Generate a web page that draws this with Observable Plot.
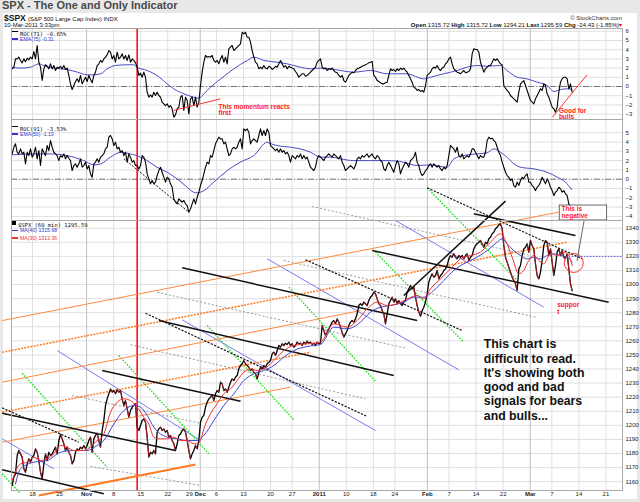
<!DOCTYPE html>
<html><head><meta charset="utf-8">
<script src="https://cdn.jsdelivr.net/npm/d3@7"></script>
<script src="https://cdn.jsdelivr.net/npm/@observablehq/plot@0.6"></script>
<style>
body{margin:0;width:640px;height:502px;background:#e8e8e8;position:relative;overflow:hidden;font-family:"Liberation Sans",Arial,sans-serif;}
#title{position:absolute;left:2px;top:0px;line-height:11px;font-size:11px;font-weight:bold;color:#4a4a4a;}
#sheet{position:absolute;left:3px;top:13px;width:634px;height:486px;background:#fff;}
.abs{position:absolute;white-space:nowrap;line-height:6px;}
.dash{display:inline-block;width:6px;height:1.5px;vertical-align:middle;margin-right:2px;}
.mono{font-family:"DejaVu Sans Mono",monospace;font-size:5.5px;color:#111;}
.sm{font-size:5.2px;}
.panel{position:absolute;left:3px;}
</style></head>
<body>
<div id="title">SPX - The One and Only Indicator</div>
<div id="sheet"></div>
<div class="abs" style="left:4px;top:14px;line-height:8px;font-size:8.5px;font-weight:bold;color:#111">$SPX <span style="font-size:6px;font-weight:normal">(S&amp;P 500 Large Cap Index) INDX</span></div>
<div class="abs" style="left:4px;top:22px;font-size:6px;color:#111">10-Mar-2011 3:33pm</div>
<div class="abs" style="right:18px;top:14.5px;font-size:6px;color:#333">© StockCharts.com</div>
<div class="abs" style="right:18px;top:22px;font-size:6px;color:#111"><b>Open</b> 1315.72 <b>High</b> 1315.72 <b>Low</b> 1294.21 <b>Last</b> 1295.59 <b>Chg</b> -24.43 (-1.85%)<span style="color:#e00">▾</span></div>

<div id="p1" class="panel" style="top:28px"></div>
<div id="p2" class="panel" style="top:119px"></div>
<div id="p3" class="panel" style="top:220px"></div>

<div class="abs" style="left:12px;top:27.5px"><span class="dash" style="background:#000"></span><span class="mono">ROC(71) -0.65%</span></div>
<div class="abs sm" style="left:12px;top:35.5px;color:#33c"><span class="dash" style="background:#33c"></span>EMA(75) -0.31</div>
<div class="abs" style="left:12px;top:122.5px"><span class="dash" style="background:#000"></span><span class="mono">ROC(91) -3.53%</span></div>
<div class="abs sm" style="left:12px;top:130.5px;color:#33c"><span class="dash" style="background:#33c"></span>EMA(50) -1.13</div>
<div class="abs" style="left:12px;top:219px"><span style="display:inline-block;width:4px;height:4px;background:#000;margin-right:2px;vertical-align:middle"></span><span class="mono">$SPX (60 min) 1295.59</span></div>
<div class="abs sm" style="left:12px;top:227px;color:#33c"><span class="dash" style="background:#33c"></span>MA(40) 1315.68</div>
<div class="abs sm" style="left:12px;top:234.5px;color:#e33"><span class="dash" style="background:#e33"></span>MA(30) 1313.36</div>

<script>
// ---------- time axis (trading-day index, 0 = 18 Oct 2010) ----------
const tickDays   = [0, 5, 10, 15, 20, 25, 29, 31, 34, 39, 44, 48, 53, 58, 63, 67, 73, 77, 82, 87, 92, 96, 101, 106];
const tickLabels = ["18","25","Nov","8","15","22","29","Dec","6","13","20","27","2011","10","18","24","Feb","7","14","22","Mar","7","14","21"];
const monthDays  = [10, 31, 53, 73, 92];
const markerDay  = [19.35];
const dayStart = -3.758, dayStep = 0.30807;

// ---------- ROC(71) ----------
const roc71 = [1.92,2.1,3.0,3.0,3.19,2.83,2.57,3.0,2.7,3.08, 2.9,3.19,3.0,3.8,3.0,4.46,2.64,2.1,0.65,1.92,
2.36,2.2,1.92,2.46,1.92,2.28,1.74,2.1,2.0,2.2, 1.92,2.28,1.85,2.0,1.2,0.29,-0.33,0.11,0.54,0.83,
0.47,1.2,0.29,0.65,1.01,0.54,1.2,0.76,0.4,1.2, 1.56,2.28,2.46,2.83,2.64,3.0,3.19,3.44,3.91,3.73,
3.0,3.37,2.64,3.73,3.0,3.19,3.55,3.0,3.37,2.83, 3.44,2.64,3.0,2.83,2.57,2.1,1.2,1.45,1.01,1.56,
1.01,-0.62,-1.16,-0.91,-1.16,-0.62,-0.98,-0.62,-0.98,-1.16, -1.7,-1.88,-2.07,-1.88,-2.25,-2.07,-2.43,-3.33,-3.08,-2.43,
-2.25,-1.16,-0.98,-2.6,-1.16,-1.52,-2.97,-1.34,-1.16,-2.07, -1.16,-2.25,-1.7,0.11,1.56,2.64,3.37,3.19,3.26,3.19,
3.37,2.83,2.64,2.83,2.46,3.0,3.37,2.64,3.19,2.46, 4.1,4.28,4.46,3.91,4.1,4.28,4.46,4.64,5.9,5.72,
5.9,5.36,5.36,4.82,3.91,3.19,2.64,2.46,1.92,2.1, 1.92,2.28,2.0,1.92,2.2,2.1,1.85,2.0,2.2,2.1,
2.46,2.83,2.46,2.1,2.28,1.92,2.2,2.1,2.0,1.92, 1.63,1.38,1.01,1.2,1.38,1.38,1.12,1.2,1.38,1.56,
1.74,1.92,2.1,2.64,2.83,3.0,
2.1,1.92,2.0,1.74,1.92,1.85,2.0,1.74,1.56,1.49, 1.2,1.01,1.2,0.65,0.47,0.83,1.2,1.38,1.56,1.49,
1.74,1.92,2.0,2.1,2.2,2.28,2.36,2.46,2.57,2.64, 2.72,1.2,1.01,0.65,0.54,0.4,0.29,0.29,0.4,0.47,
1.2,1.92,1.74,1.85,1.63,1.92,1.74,2.0,1.85,2.0, 1.74,1.56,1.2,0.83,0.47,-0.07,-0.18,-0.43,-0.33,-0.54,
-0.43,-0.62,0.11,1.2,1.38,1.56,1.92,2.1,2.0,2.28, 1.92,1.74,2.0,2.1,2.46,2.64,3.0,3.19,2.46,1.92,
1.74,1.56,1.49,1.38,1.56,1.74,1.49,1.56,1.63,1.92, 3.55,4.1,4.02,4.02,3.73,2.64,2.1,1.56,1.92,2.1,
2.28,2.28,2.64,3.0,2.83,3.0,2.72,2.46,2.36,0.11, -0.18,-0.43,-0.62,-0.98,-1.16,-1.34,-1.52,-1.7,-0.62,0.29,
0.47,0.65,0.11,-0.43,-0.98,-1.52,-1.7,-1.88,-1.34,-0.98, -0.62,-0.25,-0.43,0.29,0.11,-0.8,-1.16,-1.7,-2.25,-2.43,
-2.79,-2.25,-0.62,0.47,0.83,1.01,1.01,0.83,-0.25,0.29, -0.65];
const ema75 = [[-3.9,2.1],[-2.2,2.0],[-0.4,2.1],[1.2,2.46],[2.1,2.28],[3.9,2.0],[6.4,1.85],[8.3,1.56],[10.1,1.27],[11.3,1.27],
[12.6,1.38],[13.8,1.92],[15.3,2.28],[17.5,2.36],[18.7,2.36],[19.3,2.1],[21.2,1.74],[23.0,1.2],[24.9,0.29],[26.1,-0.25],
[28.0,-0.8],[29.8,-1.16],[30.7,-1.27],[31.7,-0.8],[32.9,-0.07],[34.8,0.83],[37.2,1.92],[39.7,2.83],[40.9,3.19],[42.8,2.83],
[45.2,2.64],[47.1,2.46],[49.5,2.1],[51.4,1.92],[53.2,2.0],[55.1,1.92],[56.9,1.74],[59.4,1.56],[62.5,1.74],[65.6,1.38],
[69.2,1.38],[72.3,0.83],[73.6,1.01],[76.0,1.38],[78.5,1.74],[80.3,2.1],[82.2,2.28],[84.0,2.2],[86.5,2.28],[87.7,1.74],
[89.6,1.01],[91.4,0.83],[93.3,0.47],[95.1,0.11],[96.4,-0.54],[97.6,-0.33],[98.8,-0.25],[99.7,-0.31]];

// ---------- ROC(91) ----------
const roc91 = [2.72,3.44,3.8,2.9,2.72,3.26,2.72,2.9,1.65,2.9, 2.54,3.26,2.37,2.72,3.44,2.19,3.08,1.47,3.26,2.9,
2.54,3.62,3.08,4.16,3.44,2.9,2.72,2.54,2.0,2.54, 2.37,2.72,2.19,2.54,2.26,2.0,0.93,1.47,1.65,1.29,
1.65,2.19,1.29,1.47,1.83,1.11,1.47,0.57,0.22,1.65, 1.83,2.19,1.83,2.37,2.54,2.72,3.26,3.44,4.52,4.7,
4.34,3.62,3.98,3.26,3.44,2.9,3.08,2.54,2.9,1.83, 2.72,2.37,1.83,2.0,1.47,1.47,1.11,1.47,2.54,2.37,
1.83,0.57,0.04,-0.5,-0.14,-0.5,-0.32,0.39,0.93,1.29, 0.75,0.22,-0.32,0.22,0.04,-0.5,-0.86,-2.11,-2.47,-2.65,
-2.11,-2.29,-2.47,-2.29,-2.65,-2.83,-3.55,-3.19,-2.65,-2.11, -2.65,-1.94,-1.4,-0.68,-0.14,0.57,1.29,1.83,1.65,2.54,
2.37,3.08,3.8,4.16,4.52,4.34,4.34,3.8,3.98,3.26, 2.54,2.72,3.26,3.44,3.26,3.44,3.98,4.34,3.26,5.41,
5.23,5.41,5.05,3.8,4.16,4.34,4.16,3.98,4.7,5.41, 4.7,5.23,4.7,5.41,5.05,3.62,3.44,3.26,3.08,3.26,
2.9,3.26,2.9,3.08,2.72,2.9,2.54,1.83,2.54,2.37, 2.19,2.54,2.37,2.72,2.19,2.54,2.19,2.37,1.83,1.29,
1.11,0.93,1.29,2.19,2.54,2.37,
2.19,2.0,2.37,2.54,2.72,2.54,2.37,2.72,2.54,2.37, 2.19,2.54,1.83,1.47,0.93,1.11,1.29,1.47,1.29,1.11,
1.47,2.19,2.37,2.19,2.54,2.37,2.54,2.72,2.37,2.54, 2.72,2.37,2.19,2.54,2.37,2.0,1.83,1.11,0.93,1.47,
1.83,1.47,1.11,0.75,1.47,2.0,1.65,0.57,1.11,1.47, 1.83,1.65,1.29,2.0,2.19,2.37,2.9,1.83,1.47,0.75,
0.39,0.57,0.93,1.11,1.47,1.65,1.29,1.65,1.47,1.29, 1.47,1.11,0.93,1.29,1.11,1.47,2.54,3.62,3.44,3.26,
2.9,3.44,2.54,2.37,2.72,2.19,2.37,2.54,2.37,2.72, 3.26,3.26,2.9,2.54,2.19,2.54,2.37,2.37,2.9,4.16,
4.52,4.34,4.41,4.16,3.98,3.44,2.9,2.54,1.83,1.29, 0.75,0.39,0.22,-0.14,0.04,-0.68,-0.86,-0.32,-0.68,-0.14,
0.22,0.04,0.39,0.57,-0.32,-0.32,-0.68,-0.86,-1.22,-0.86, -0.68,-0.32,0.22,-0.14,-0.5,0.04,-0.32,-0.86,-1.22,-1.76,
-1.4,-1.22,-0.86,-1.04,-1.4,-1.22,-1.58,-1.76,-2.65,-2.95, -3.4];
const ema50 = [[-3.76,2.62],[0.25,2.72],[3.3,2.72],[6.4,2.54],[9.5,2.0],[11.3,1.54],[12.6,1.65],[14.4,2.37],[16.3,2.9],[18.1,2.72],
[19.3,2.54],[21.2,2.0],[23.0,1.29],[24.9,0.75],[26.7,0.04],[28.6,-0.86],[29.8,-1.4],[30.4,-1.47],[31.7,-1.22],[33.5,-0.32],
[36.0,0.93],[38.4,1.83],[40.9,2.54],[43.4,3.98],[43.7,3.9],[45.2,3.62],[47.7,3.44],[49.5,3.26],[51.4,2.9],[53.2,2.37],
[55.1,2.37],[56.9,2.19],[59.4,2.0],[62.5,2.0],[65.6,2.0],[68.6,1.83],[71.1,1.47],[73.6,1.54],[76.6,1.29],[77.9,2.19],
[79.7,2.54],[82.2,2.72],[84.0,2.83],[85.3,3.26],[86.5,2.9],[87.7,2.37],[89.0,1.65],[90.2,1.29],[92.7,1.11],[95.1,0.75],
[97.0,0.22],[98.5,-0.32],[99.7,-1.13]];

// ---------- $SPX 60-minute price ----------
const spx = [1157.3,1163.2,1165.5,1178.6,1182.1,1179.7,1177.4,1169.1,1166.7,1172.6, 1176.2,1173.8,1177.4,1178.6,1183.3,1180.9,1175.0,1166.7,1162.0,1172.6,
1179.7,1175.0,1180.9,1178.6,1179.7,1182.1,1184.5,1179.7,1189.2,1193.5, 1190.4,1186.9,1182.1,1184.5,1180.9,1178.6,1172.6,1175.0,1180.9,1183.3,
1182.1,1184.5,1183.3,1185.7,1183.3,1185.7,1189.2,1191.6,1180.9,1190.4, 1192.8,1194.4,1189.2,1184.5,1196.3,1203.4,1214.1,1218.8,1222.4,1225.9,
1223.5,1224.7,1222.4,1225.2,1223.5,1224.7,1218.8,1214.1,1217.6,1211.7, 1205.8,1210.5,1212.9,1214.1,1215.3,1198.7,1196.3,1199.9,1203.4,1204.6,
1202.2,1191.6,1177.4,1180.9,1179.7,1182.1,1179.7,1195.1,1197.5,1198.7, 1196.3,1197.5,1195.1,1196.3,1191.6,1192.8,1189.2,1186.9,1182.1,1186.9,
1192.8,1193.9,1196.3,1197.5,1195.1,1189.2,1182.1,1176.2,1179.7,1182.1, 1185.7,1183.3,1189.2,1202.2,1205.8,1207.0,1212.9,1216.4,1218.8,1220.0,
1221.2,1217.6,1222.4,1224.7,1223.5,1230.6,1229.5,1224.7,1225.9,1223.5, 1227.1,1230.6,1233.0,1231.8,1234.2,1235.4,1240.1,1242.5,1243.7,1246.0,
1243.7,1242.5,1241.3,1238.9,1240.1,1237.7,1236.6,1233.0,1237.7,1241.3, 1240.1,1242.5,1241.3,1243.7,1244.8,1246.0,1250.8,1252.0,1249.6,1253.1,
1256.7,1255.5,1257.9,1256.7,1258.3,1257.4,1259.1,1256.7,1257.9,1255.5, 1256.7,1259.1,1257.9,1258.3,1256.7,1259.1,1257.9,1259.8,1258.3,1259.1,
1257.4,1258.3,1256.7,1259.1,1257.9,1258.3,
1270.9,1267.3,1263.8,1266.2,1268.5,1270.9,1273.3,1274.4,1272.1,1275.6, 1273.3,1269.7,1266.2,1262.6,1265.0,1267.3,1270.9,1273.3,1274.4,1273.3,
1275.6,1279.2,1285.1,1286.3,1285.1,1287.5,1286.3,1285.1,1288.6,1291.0, 1292.2,1294.6,1293.4,1289.8,1286.3,1285.1,1281.5,1279.2,1272.1,1279.2,
1286.3,1288.6,1291.0,1287.5,1289.8,1286.3,1288.6,1286.3,1285.1,1287.5, 1288.6,1294.6,1296.9,1299.3,1296.9,1298.1,1291.0,1285.1,1280.4,1277.5,
1281.5,1283.9,1287.5,1293.4,1301.7,1305.2,1307.6,1305.2,1306.4,1310.0, 1304.0,1306.4,1307.6,1310.0,1311.1,1313.5,1318.2,1320.6,1319.4,1321.8,
1319.4,1318.2,1320.6,1319.4,1320.6,1318.2,1320.6,1321.8,1317.1,1319.4, 1320.6,1325.3,1327.7,1328.9,1330.1,1331.3,1328.9,1326.5,1330.1,1328.9,
1332.5,1333.6,1336.0,1337.2,1339.6,1340.7,1342.4,1343.1,1339.6,1327.7, 1319.4,1315.9,1312.3,1308.8,1305.2,1302.8,1300.5,1295.8,1311.1,1313.5,
1320.6,1325.3,1326.5,1328.9,1323.0,1331.3,1327.7,1325.3,1314.7,1306.4, 1304.0,1308.8,1317.1,1327.7,1331.3,1330.1,1320.6,1325.3,1315.9,1306.4,
1313.5,1323.0,1325.3,1320.6,1324.1,1319.4,1318.2,1321.8,1311.1,1300.5, 1295.6];
const ma30 = [[-3.76,1160.8],[-2.22,1172.6],[-0.99,1173.8],[0.25,1177.4],[1.48,1175.0],[2.71,1176.2],[3.94,1179.7],[5.18,1185.7],[6.41,1184.5],[7.64,1182.1],
[9.49,1182.1],[10.72,1184.5],[11.95,1189.2],[12.57,1190.4],[13.19,1193.9],[14.42,1209.3],[15.65,1216.4],[16.88,1218.8],[18.11,1217.6],[19.35,1212.9],
[20.58,1205.8],[21.5,1201.0],[22.43,1191.6],[23.66,1190.4],[24.89,1190.4],[26.12,1191.6],[27.36,1189.2],[28.59,1189.2],[29.82,1186.9],[30.44,1186.9],
[31.05,1189.2],[31.67,1197.5],[32.9,1208.1],[34.13,1215.3],[35.37,1222.4],[36.6,1225.9],[37.83,1231.8],[39.06,1237.7],[40.3,1240.1],[41.53,1238.9],
[42.76,1240.1],[43.99,1243.7],[45.23,1248.4],[46.46,1253.1],[48.31,1256.7],[50.77,1257.9],[53.23,1259.1],[55.69,1272.1],[58.16,1269.7],[60.01,1274.4],
[61.86,1282.7],[63.7,1287.5],[65.55,1285.1],[67.4,1286.3],[69.25,1289.8],[71.1,1292.2],[72.33,1289.8],[73.56,1296.9],[75.41,1304.0],[77.26,1311.1],
[79.11,1318.2],[80.96,1320.6],[82.8,1323.0],[84.65,1330.1],[86.5,1336.0],[87.43,1331.3],[88.66,1319.4],[89.89,1307.6],[90.81,1310.0],[91.74,1317.1],
[92.66,1320.6],[93.59,1317.1],[94.51,1314.7],[95.74,1321.8],[96.98,1320.6],[98.21,1323.0],[99.13,1320.6],[99.75,1313.4]];
const ma40 = [[-3.14,1158.4],[-2.22,1169.1],[0.25,1173.8],[2.71,1175.0],[5.18,1180.9],[7.64,1182.1],[10.1,1182.1],[11.95,1185.7],[13.19,1189.2],[15.03,1201.0],
[16.88,1210.5],[18.73,1214.1],[19.96,1212.9],[21.2,1207.0],[22.43,1198.7],[23.66,1193.9],[24.89,1191.6],[26.74,1190.4],[28.59,1189.2],[30.44,1189.2],
[31.67,1192.8],[33.52,1203.4],[35.37,1214.1],[37.22,1222.4],[39.06,1231.8],[40.91,1236.6],[42.76,1238.9],[44.61,1242.5],[46.46,1248.4],[48.31,1253.1],
[50.77,1256.0],[53.23,1257.4],[55.69,1269.7],[58.16,1268.5],[60.62,1273.3],[62.47,1280.4],[64.32,1283.9],[66.17,1285.1],[68.63,1287.5],[70.48,1291.0],
[72.33,1291.0],[74.18,1295.8],[76.03,1302.8],[77.88,1310.0],[79.72,1314.7],[81.57,1318.2],[84.04,1324.1],[85.89,1330.1],[86.81,1332.5],[87.73,1328.9],
[88.97,1324.1],[90.2,1320.6],[91.43,1318.2],[92.66,1319.4],[93.9,1318.2],[95.13,1320.6],[96.36,1321.8],[97.59,1320.6],[98.82,1319.4],[99.75,1315.7]];

// ---------- hand-drawn trendlines: [day1, price1, day2, price2] ----------
const orangeSolid  = [[-5.6,1274.4,97.28,1351.4],[-5.6,1230.6,60.63,1281.5],[-5.6,1188.0,47.69,1227.1]];
const orangeDotted = [[-5.6,1251.9,98.84,1330.1],[-5.6,1209.3,51.39,1251.9]];
const orangeThick  = [[1.16,1150.2,30.13,1172.2]];
const blackSolid   = [[27.67,1311.9,71.11,1274.4],[62.79,1324.2,106.5,1287.4],[81.57,1350.2,100.37,1334.8],[68.63,1292.2,87.43,1359.2],
  [12.88,1238.9,38.45,1217.1],[-5.6,1208.6,26.43,1182.1],[-5.6,1168.4,13.18,1151.4],[23.35,1274.4,66.78,1235.4]];
const blackDashed  = [[20.89,1279.6,61.87,1206.3],[50.46,1317.6,79.43,1267.3],[72.96,1368.7,101.6,1318.3],[-5.6,1212.4,8.56,1188.0]];
const grayDashed   = [[23.05,1294.5,69.26,1254.6],[51.7,1355.4,92.05,1320.6],[18.11,1257.2,61.55,1218.8],[7.34,1221.2,31.05,1201.5],
  [10.72,1170.8,31.05,1157.3],[46.45,1317.1,92.98,1276.8]];
const blueSolid    = [[4.57,1253.1,31.05,1189.2],[-5.6,1190.4,3.94,1169.1],[27.67,1274.9,63.4,1196.3],[43.38,1318.3,78.8,1239.4],[67.1,1345.5,94.5,1283.9]];
const greenDotted  = [[-1.9,1237.0,13.81,1170.3],[15.95,1249.6,32.59,1179.8],[32.29,1270.9,48.3,1203.9],[47.38,1298.1,63.4,1231.3],
  [72.96,1368.7,89.59,1302.9],[63.4,1323.0,79.72,1259.0],[-5.6,1165.6,-2.22,1151.4]];
const roc71Arrows  = [[26.1,-2.6,34.75,-1.34],[96.1,-3.34,102.5,1.27]];
const roc91Dashed  = [[16.9,2.19,28.9,-3.55]];
const supportLevel = [1320];
const circleMark   = [[100.05,1315.3]];

// ---------- shared plot helpers ----------
const FONT = "Liberation Sans, Arial, sans-serif";
const series = vals => vals.map((v, i) => ({t: dayStart + i * dayStep, v}));
const base = h => ({
  width: 634, height: h, marginLeft: 8, marginRight: 15, marginTop: 0, marginBottom: 0,
  x: {domain: [-3.882, 109.06], axis: null},
  style: {background: "transparent", overflow: "visible", fontFamily: FONT, color: "#222"}
});
const weekDays = tickDays.filter(d => !monthDays.includes(d));
const grid = yTicks => [
  Plot.ruleY(yTicks, {stroke: "#e0e0e0", strokeWidth: 1}),
  Plot.ruleX(weekDays, {stroke: "#e0e0e0", strokeWidth: 1}),
  Plot.ruleX(monthDays, {stroke: "#c0c0c0", strokeWidth: 1})
];
const yAxis = ticks => Plot.axisY(ticks, {anchor: "right", tickSize: 0, tickPadding: 3, fontSize: 6, label: null, fill: "#222", tickFormat: d3.format("d")});
const seg = (data, opts) => Plot.link(data, {x1: d => d[0], y1: d => d[1], x2: d => d[2], y2: d => d[3], ...opts});
const red = "#ff2020";

// ---------- panel 1 : ROC(71) ----------
const t1 = [-3,-2,-1,0,1,2,3,4,5,6];
document.getElementById("p1").append(Plot.plot({
  ...base(91),
  y: {domain: [-3.587, 6.304]},
  marks: [
    ...grid(t1),
    Plot.ruleY([0], {stroke: "#777", strokeDasharray: "6,2,1,2"}),
    Plot.ruleX(markerDay, {stroke: "#ff1010", strokeWidth: 1.6}),
    Plot.line(ema75, {x: d => d[0], y: d => d[1], stroke: "#4a4ac8", strokeWidth: 1, curve: "monotone-x"}),
    Plot.line(series(roc71), {x: "t", y: "v", stroke: "#000", strokeWidth: 1.1}),
    seg(roc71Arrows, {stroke: red, strokeWidth: 0.9}),
    Plot.text(["This momentum reacts\nfirst"], {x: 34.4, y: -1.88, text: d => d, textAnchor: "start", lineAnchor: "top", lineHeight: 1.05, fontSize: 6.5, fontWeight: "bold", fill: red}),
    Plot.text(["Good for\nbulls"], {x: 97.3, y: -2.3, text: d => d, textAnchor: "start", lineAnchor: "top", lineHeight: 1.05, fontSize: 6.5, fontWeight: "bold", fill: red}),
    yAxis(t1),
    Plot.frame({stroke: "#a8a8a8"})
  ]
}));

// ---------- panel 2 : ROC(91) ----------
const t2 = [-4,-3,-2,-1,0,1,2,3,4,5];
document.getElementById("p2").append(Plot.plot({
  ...base(101),
  y: {domain: [-4.44, 6.42]},
  marks: [
    ...grid(t2),
    Plot.ruleY([0], {stroke: "#777", strokeDasharray: "6,2,1,2"}),
    Plot.ruleX(markerDay, {stroke: "#ff1010", strokeWidth: 1.6}),
    Plot.line(ema50, {x: d => d[0], y: d => d[1], stroke: "#4a4ac8", strokeWidth: 1, curve: "monotone-x"}),
    Plot.line(series(roc91), {x: "t", y: "v", stroke: "#000", strokeWidth: 1.1}),
    seg(roc91Dashed, {stroke: "#111", strokeWidth: 1, strokeDasharray: "2,1.5"}),
    yAxis(t2),
    Plot.frame({stroke: "#a8a8a8"})
  ]
}));

// ---------- panel 3 : price ----------
const t3 = d3.range(1160, 1341, 10);
const spxPts = series(spx);
const downMoves = spxPts.slice(1).map((p, i) => [spxPts[i], p]).filter(([a, b]) => b.v < a.v);
document.getElementById("p3").append(Plot.plot({
  ...base(280),
  marginBottom: 10,
  y: {domain: [1153.71, 1345.47]},
  marks: [
    ...grid(t3),
    Plot.ruleX(markerDay, {stroke: "#ff1010", strokeWidth: 1.6}),
    seg(grayDashed,   {stroke: "#808080", strokeWidth: 0.8, strokeDasharray: "2,2"}),
    seg(blueSolid,    {stroke: "#6b6bf0", strokeWidth: 0.9}),
    seg(greenDotted,  {stroke: "#22e022", strokeWidth: 1.4, strokeDasharray: "1.6,1.4"}),
    seg(orangeSolid,  {stroke: "#ff8a3d", strokeWidth: 1}),
    seg(orangeDotted, {stroke: "#ff7a20", strokeWidth: 1.5, strokeDasharray: "2,1.2"}),
    seg(orangeThick,  {stroke: "#ff7a20", strokeWidth: 2}),
    seg(blackDashed,  {stroke: "#111", strokeWidth: 1.2, strokeDasharray: "2.2,1.4"}),
    seg(blackSolid,   {stroke: "#111", strokeWidth: 1.5}),
    Plot.ruleY(supportLevel, {x1: 99.8, x2: 109.06, stroke: "#4444ee", strokeWidth: 0.9, strokeDasharray: "1.5,1.5"}),
    Plot.line(spxPts, {x: "t", y: "v", stroke: "#000", strokeWidth: 1.3}),
    Plot.link(downMoves, {x1: d => d[0].t, y1: d => d[0].v, x2: d => d[1].t, y2: d => d[1].v, stroke: "#d8202a", strokeWidth: 0.8}),
    Plot.line(ma40, {x: d => d[0], y: d => d[1], stroke: "#4444cc", strokeWidth: 1, curve: "monotone-x"}),
    Plot.line(ma30, {x: d => d[0], y: d => d[1], stroke: "#f03030", strokeWidth: 1, curve: "monotone-x"}),
    Plot.dot(circleMark, {x: d => d[0], y: d => d[1], r: 9.5, stroke: "#ff3030", strokeWidth: 1, fill: "none"}),
    Plot.link([[102.0, 1346.2, 100.65, 1317.0]], {x1: d => d[0], y1: d => d[1], x2: d => d[2], y2: d => d[3], stroke: "#555", strokeWidth: 0.9}),
    Plot.rect([[97.46, 106.22, 1345.5, 1356.1]], {x1: d => d[0], x2: d => d[1], y1: d => d[2], y2: d => d[3], fill: "#fff", stroke: "#444", strokeWidth: 0.8}),
    Plot.text(["This is\nnegative"], {x: 97.8, y: 1355.6, text: d => d, textAnchor: "start", lineAnchor: "top", lineHeight: 1.05, fontSize: 6.5, fontWeight: "bold", fill: red}),
    Plot.text(["suppor\nt"], {x: 96.98, y: 1287.4, text: d => d, textAnchor: "start", lineAnchor: "top", lineHeight: 1.05, fontSize: 6.5, fontWeight: "bold", fill: red}),
    Plot.text(["This chart is\ndifficult to read.\nIt's showing both\ngood and bad\nsignals for bears\nand bulls..."],
      {x: 83.42, y: 1261.8, text: d => d, textAnchor: "start", lineAnchor: "top", lineHeight: 1.16, fontSize: 12.3, fontWeight: "bold", fill: "#111"}),
    yAxis(t3),
    Plot.text(weekDays, {x: d => d, text: d => tickLabels[tickDays.indexOf(d)], frameAnchor: "bottom", dy: 5.5, fontSize: 6, fill: "#222"}),
    Plot.text(monthDays, {x: d => d, text: d => tickLabels[tickDays.indexOf(d)], frameAnchor: "bottom", dy: 5.5, fontSize: 6, fontWeight: "bold", fill: "#222"}),
    Plot.frame({stroke: "#a8a8a8"})
  ]
}));
</script>
</body></html>
